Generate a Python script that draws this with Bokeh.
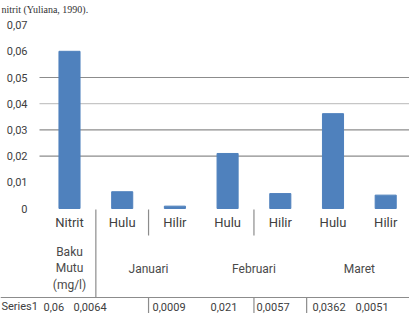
from bokeh.plotting import figure
from bokeh.models import Range1d, Span
from bokeh.core.properties import value
from bokeh.embed import file_html
from bokeh.resources import INLINE

# ---------------- data ----------------
categories = ["Nitrit", "Hulu", "Hilir", "Hulu", "Hilir", "Hulu", "Hilir"]
group_labels = ["Baku\nMutu\n(mg/l)", "Januari", "Februari", "Maret"]
group_first = [0, 1, 3, 5]
group_last = [0, 2, 4, 6]
series_name = "Series1"
series1 = [0.06, 0.0064, 0.0009, 0.021, 0.0057, 0.0362, 0.0051]
y_ticks = [0, 0.01, 0.02, 0.03, 0.04, 0.05, 0.06, 0.07]
y_tick_labels = ["0", "0,01", "0,02", "0,03", "0,04", "0,05", "0,06", "0,07"]
grid_values = [0.02, 0.03, 0.04, 0.05]
caption = "nitrit   (Yuliana,   1990)."

# ---------------- layout (pixels) ----------------
W, H = 409, 313
CAT0_PX = 69.0
STEP_PX = 52.7
ZERO_PX = 208.0
PX_PER_UNIT = 2620.0
FONT = "Roboto"


def xi(px):
    return (px - CAT0_PX) / STEP_PX


def yv(py):
    return (ZERO_PX - py) / PX_PER_UNIT


p = figure(width=W, height=H,
           x_range=Range1d(xi(0), xi(W)), y_range=Range1d(yv(H), yv(0)),
           x_axis_type=None, y_axis_type=None,
           output_backend="svg", toolbar_location=None,
           min_border=0, outline_line_color=None,
           background_fill_color="white", border_fill_color="white")
p.grid.visible = False

n = len(categories)
idx = list(range(n))

# gridlines
grid_colors = ["#8c8c8c", "#8c8c8c", "#c6c6c6", "#8c8c8c"]
p.segment(x0=[xi(39)] * len(grid_values), x1=[xi(W)] * len(grid_values),
          y0=grid_values, y1=grid_values, line_color=grid_colors, line_width=1.2)

# bars
p.vbar(x=idx, top=series1, width=0.40, fill_color="#4F81BD", line_color="#4F81BD")

# y tick labels
p.text(x=[xi(27)] * len(y_ticks), y=y_ticks, text=y_tick_labels,
       text_align="right", text_baseline="middle",
       text_font=value(FONT), text_font_size="11px", text_color="#404040")

# category labels (level 1)
p.text(x=idx, y=[yv(222)] * n, text=categories,
       text_align="center", text_baseline="middle",
       text_font=value(FONT), text_font_size="13px", text_color="#404040")

# group labels (level 2)
gx = [(a + b) / 2 for a, b in zip(group_first, group_last)]
p.text(x=gx, y=[yv(268)] * len(gx), text=group_labels,
       text_align="center", text_baseline="middle", text_line_height=1.2,
       text_font=value(FONT), text_font_size="12px", text_color="#4a4a4a")

# separators between categories
sep_long = [group_last[0] + 0.5]
sep_short = [1.5, 3.5]
p.segment(x0=sep_long, x1=sep_long, y0=[yv(209)], y1=[yv(297)],
          line_color="#8c8c8c", line_width=1.2)
p.segment(x0=sep_short, x1=sep_short, y0=[yv(209)] * 2, y1=[yv(235)] * 2,
          line_color="#8c8c8c", line_width=1.2)

# data table
p.add_layout(Span(location=yv(297), dimension="width", line_color="#8c8c8c", line_width=1))
tbl_borders = [1.5, 3.5, 4.5]
p.segment(x0=tbl_borders, x1=tbl_borders, y0=[yv(297)] * 3, y1=[yv(H)] * 3,
          line_color="#8c8c8c", line_width=1.2)
table_left_px = [43, 73, 152, 210, 256, 312, 355]
table_text = [str(v).replace(".", ",") for v in series1]
p.text(x=[xi(px) for px in table_left_px], y=[yv(306)] * n, text=table_text,
       text_align="left", text_baseline="middle",
       text_font=value(FONT), text_font_size="11px", text_color="#404040")
p.text(x=[xi(1)], y=[yv(306)], text=[series_name],
       text_align="left", text_baseline="middle",
       text_font=value(FONT), text_font_size="11px", text_color="#404040")

# caption at the top
p.text(x=[xi(1)], y=[yv(9)], text=[caption],
       text_align="left", text_baseline="alphabetic",
       text_font=value("Liberation Serif"), text_font_size="10px", text_color="#333333")

open("out.html", "w").write(file_html(p, INLINE))
